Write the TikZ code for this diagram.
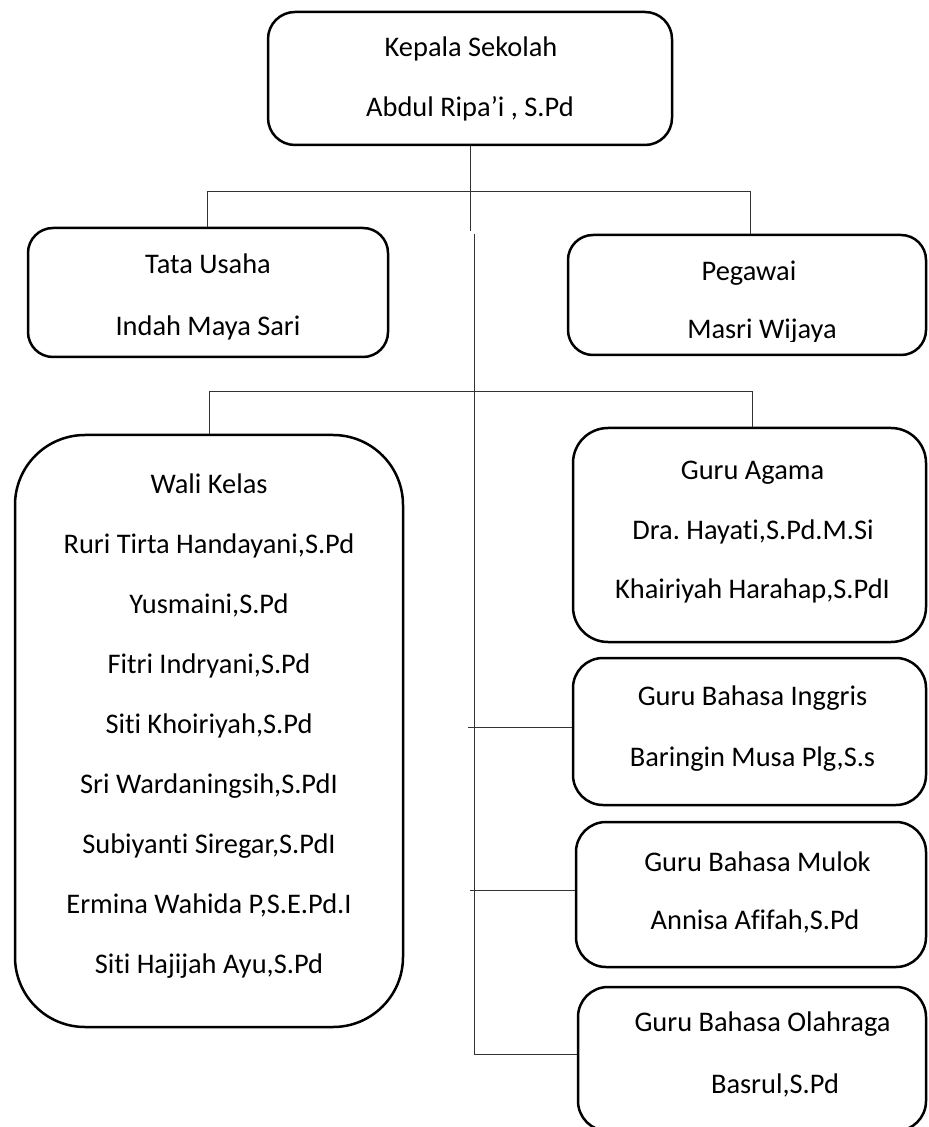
\documentclass[tikz,border=0pt]{standalone}
\usepackage{fontspec}
\setmainfont[Ligatures=NoCommon]{Carlito}
\frenchspacing

\begin{document}
\begin{tikzpicture}[x=0.5pt, y=-0.5pt,
    box/.style={draw, line width=1.25pt, rounded corners=#1, inner sep=0pt},
    box/.default=12.5pt,
    txt/.style={font=\fontsize{14.2}{17}\selectfont, inner sep=0pt, text height=9.1pt, text depth=0pt},
    link/.style={line width=0.5pt, black!80}]
  \useasboundingbox (0,0) rectangle (928,1127);

  % Draw the boxes
  \node[box=13.5pt, minimum width=202pt, minimum height=66.5pt] (kepala) at (470,78.5) {};
  \node[box, minimum width=180pt, minimum height=64.5pt] (tata) at (208,292.5) {};
  \node[box, minimum width=179pt, minimum height=60pt] (pegawai) at (747,295) {};
  \node[box=35pt, minimum width=194pt, minimum height=296pt] (wali) at (209,731) {};
  \node[box=17.5pt, minimum width=176.5pt, minimum height=107pt] (agama) at (749.5,535) {};
  \node[box=15pt, minimum width=176.5pt, minimum height=73.5pt] (inggris) at (749.5,731.5) {};
  \node[box=15pt, minimum width=175pt, minimum height=72.5pt] (mulok) at (751,894.5) {};
  \node[box=15pt, minimum width=174pt, minimum height=72pt] (olahraga) at (752,1059) {};

  % Texts
  \node[txt] (kepala1) at (471,47.5) {Kepala Sekolah};
  \node[txt] (kepala2) at (470,107.5) {Abdul Ripa’i , S.Pd};
  \node[txt] (tata1) at (208,264) {Tata Usaha};
  \node[txt] (tata2) at (208,326) {Indah Maya Sari};
  \node[txt] (pegawai1) at (749,271) {Pegawai};
  \begin{scope}
    \clip (560,300) rectangle (928,341.5);
    \node[txt] (pegawai2) at (762,329) {Masri Wijaya};
  \end{scope}
  \foreach \nama [count=\i from 0] in {Wali Kelas, {Ruri Tirta Handayani,S.Pd}, {Yusmaini,S.Pd},
      {Fitri Indryani,S.Pd}, {Siti Khoiriyah,S.Pd}, {Sri Wardaningsih,S.PdI},
      {Subiyanti Siregar,S.PdI}, {Ermina Wahida P,S.E.Pd.I}, {Siti Hajijah Ayu,S.Pd}} {
    \node[txt] (wali\i) at (209,484+60*\i) {\nama};
  }
  \node[txt] (agama1) at (752.5,470.5) {Guru Agama};
  \node[txt] (agama2) at (753,530) {Dra. Hayati,S.Pd.M.Si};
  \node[txt] (agama3) at (752.5,589) {Khairiyah Harahap,S.PdI};
  \node[txt] (inggris1) at (752.5,696) {Guru Bahasa Inggris};
  \node[txt] (inggris2) at (752.5,757) {Baringin Musa Plg,S.s};
  \node[txt] (mulok1) at (757.5,862) {Guru Bahasa Mulok};
  \node[txt] (mulok2) at (755,920) {Annisa Afifah,S.Pd};
  \node[txt] (olahraga1) at (762.5,1022) {Guru Bahasa Olahraga};
  \node[txt] (olahraga2) at (775,1084) {Basrul,S.Pd};

  % Connectors
  \coordinate (t1) at (470,231);
  \coordinate (t2) at (474,234);
  \coordinate (t3) at (474,1054);
  \coordinate (bar1) at (207,192);
  \coordinate (bar2) at (750,192);
  \coordinate (bar3) at (209.5,392);
  \coordinate (bar4) at (752,392);
  \coordinate (b1) at (468,727);
  \coordinate (b2) at (470,890);

  \draw[link] (kepala.south) -- (t1);
  \draw[link] (t2) -- (t3) -- (t3 -| olahraga.west);
  \draw[link] (tata.north -| bar1) -- (bar1) -- (bar2) -- (pegawai.north -| bar2);
  \draw[link] (wali.north -| bar3) -- (bar3) -- (bar4) -- (agama.north -| bar4);
  \draw[link] (b1) -- (b1 -| inggris.west);
  \draw[link] (b2) -- (b2 -| mulok.west);
\end{tikzpicture}
\end{document}
